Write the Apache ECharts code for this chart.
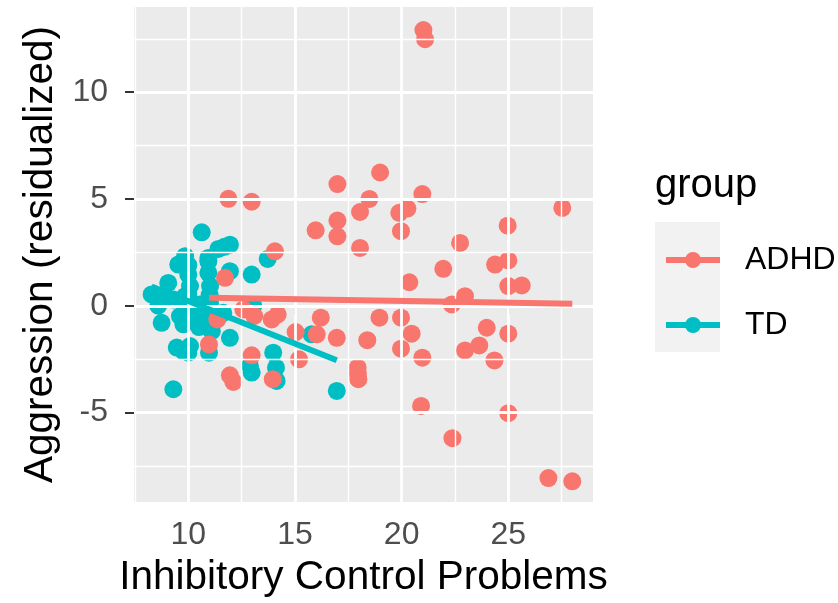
<!DOCTYPE html>
<html>
<head>
<meta charset="utf-8">
<script src="https://cdn.jsdelivr.net/npm/echarts@6/dist/echarts.min.js"></script>
<style>
  html, body { margin: 0; padding: 0; background: #fff; }
  #chart { width: 838px; height: 603px; }
</style>
</head>
<body>
<div id="chart"></div>
<script>
// values
var adhdX = [21.02, 21.10, 18.99, 16.99, 11.88, 12.97, 20.97, 18.49, 18.05, 19.89,
  20.27, 27.53, 16.99, 16.99, 15.97, 19.97, 24.97, 22.74, 18.05, 14.06,
  24.38, 25.00, 21.95, 20.36, 25.00, 25.63, 22.97, 22.35, 11.72, 18.96,
  19.97, 16.21, 14.19, 13.91, 12.58, 13.09, 11.36, 15.03, 16.02, 16.96,
  18.39, 20.47, 19.97, 20.97, 23.99, 25.00, 23.64, 22.97, 24.35, 10.97,
  15.19, 12.97, 11.95, 12.11, 17.94, 17.95, 17.97, 13.96, 20.91, 25.00,
  22.38, 26.88, 28.00];
var adhdY = [12.91, 12.48, 6.24, 5.70, 5.01, 4.87, 5.23, 5.00, 4.39, 4.35,
  4.55, 4.58, 3.99, 3.25, 3.53, 3.49, 3.75, 2.94, 2.71, 2.55,
  1.93, 2.12, 1.73, 1.10, 0.92, 0.95, 0.45, 0.06, 1.31, -0.56,
  -0.56, -0.56, -0.41, -0.64, -0.17, -0.48, -0.64, -1.23, -1.34, -1.50,
  -1.61, -1.31, -2.01, -2.43, -1.03, -1.31, -1.86, -2.09, -2.56, -1.81,
  -2.51, -2.32, -3.26, -3.57, -2.90, -3.20, -3.44, -3.44, -4.69, -5.03,
  -6.20, -8.07, -8.22];

var tdX = [10.63, 11.69, 11.95, 11.41, 9.85, 10.94, 9.53, 13.72, 12.97, 11.95,
  9.06, 10.00, 10.08, 10.94, 11.02, 8.28, 8.83, 8.59, 9.30, 9.85,
  9.92, 10.55, 11.02, 13.05, 8.75, 9.61, 9.77, 10.39, 11.02, 11.10,
  11.64, 11.95, 9.46, 10.08, 10.00, 9.77, 10.97, 13.98, 12.89, 12.97,
  14.11, 14.14, 9.30, 15.78, 16.96, 10.94, 10.00, 10.50, 10.00, 11.00,
  11.00, 10.00];
var tdY = [3.44, 2.76, 2.86, 2.66, 2.32, 2.08, 1.93, 2.19, 1.46, 1.62,
  1.07, 1.46, 0.92, 1.54, 0.92, 0.53, 0.37, 0.00, 0.29, 0.45,
  0.00, 0.06, 0.14, 0.00, -0.80, -0.49, -0.87, -0.64, -0.80, -1.19,
  -0.33, -1.50, -1.96, -1.89, -2.20, -2.12, -2.20, -2.20, -2.82, -3.13,
  -2.90, -3.52, -3.91, -1.34, -3.99, 2.24, 1.90, -1.00, 0.50, 0.50,
  -0.30, -0.30];

// fitted lines (lm per group), endpoints
var adhdFitX = [10.97, 28.00];
var adhdFitY = [0.37, 0.09];
var tdFitX = [8.28, 16.96];
var tdFitY = [0.90, -2.55];

// ticks / grid
var xTicks = [10, 15, 20, 25];
var xMinor = [7.5, 12.5, 17.5, 22.5, 27.5];
var yTicks = [-5, 0, 5, 10];
var yMinor = [-7.5, -2.5, 2.5, 7.5, 12.5];
var xRange = [7.455, 28.97];
var yRange = [-9.19, 13.99];

var groups = ['ADHD', 'TD'];
var colors = { ADHD: '#F8766D', TD: '#00BFC4' };

function pairs(xs, ys) {
  return xs.map(function (x, i) { return [x, ys[i]]; });
}

var gridLines = [];
xMinor.forEach(function (v) { gridLines.push({ xAxis: v, lineStyle: { width: 1.4 } }); });
yMinor.forEach(function (v) { gridLines.push({ yAxis: v, lineStyle: { width: 1.4 } }); });
xTicks.forEach(function (v) { gridLines.push({ xAxis: v, lineStyle: { width: 2.8 } }); });
yTicks.forEach(function (v) { gridLines.push({ yAxis: v, lineStyle: { width: 2.8 } }); });

var keyIcon = 'path://M0,5 L21,5 L21,11 L0,11 Z M33,5 L54,5 L54,11 L33,11 Z M35,8 A8,8 0 1 1 19,8 A8,8 0 1 1 35,8 Z';

var chart = echarts.init(document.getElementById('chart'));
chart.setOption({
  backgroundColor: '#ffffff',
  animation: false,
  textStyle: { fontFamily: 'Liberation Sans' },
  grid: {
    left: 134, top: 7, width: 459, height: 496,
    show: true, backgroundColor: '#EBEBEB', borderWidth: 0
  },
  xAxis: {
    type: 'value',
    min: xRange[0], max: xRange[1],
    name: 'Inhibitory Control Problems',
    nameLocation: 'middle',
    nameGap: 55,
    nameTextStyle: { fontSize: 40.5, color: '#000' },
    axisLine: { show: false },
    axisTick: { show: true, customValues: xTicks, length: 9, lineStyle: { color: '#333', width: 2 } },
    axisLabel: { customValues: xTicks, fontSize: 32, color: '#4D4D4D', margin: 17 },
    splitLine: { show: false }
  },
  yAxis: {
    type: 'value',
    min: yRange[0], max: yRange[1],
    name: 'Aggression (residualized)',
    nameLocation: 'middle',
    nameGap: 72,
    nameTextStyle: { fontSize: 40.5, color: '#000' },
    axisLine: { show: false },
    axisTick: { show: true, customValues: yTicks, length: 9, lineStyle: { color: '#333', width: 2 } },
    axisLabel: { customValues: yTicks, fontSize: 32, color: '#4D4D4D', margin: 26 },
    splitLine: { show: false }
  },
  legend: {
    orient: 'vertical',
    left: 661,
    top: 239,
    itemWidth: 54,
    itemHeight: 16,
    itemGap: 33,
    selectedMode: false,
    textStyle: { fontSize: 32, color: '#000', lineHeight: 32, padding: [0, 0, 0, 20] },
    data: groups.map(function (g) { return { name: g, icon: keyIcon }; })
  },
  graphic: [
    { type: 'rect', left: 655, top: 222, z: -1, shape: { width: 65, height: 130 }, style: { fill: '#F2F2F2' } },
    { type: 'text', x: 655, y: 186, style: { text: 'group', fontSize: 40, fill: '#000', fontFamily: 'Liberation Sans', verticalAlign: 'middle' } }
  ],
  series: [
    {
      name: 'grid', type: 'line', data: [], z: 1, silent: true,
      markLine: {
        silent: true, symbol: ['none', 'none'], label: { show: false },
        lineStyle: { color: '#FFFFFF', type: 'solid' },
        data: gridLines
      }
    },
    {
      name: 'TD', type: 'scatter', z: 3, symbolSize: 18,
      itemStyle: { color: colors.TD, opacity: 1 },
      data: pairs(tdX, tdY)
    },
    {
      name: 'ADHD', type: 'scatter', z: 4, symbolSize: 18,
      itemStyle: { color: colors.ADHD, opacity: 1 },
      data: pairs(adhdX, adhdY)
    },
    {
      name: 'ADHD fit', type: 'line', z: 5, showSymbol: false, silent: true,
      lineStyle: { color: colors.ADHD, width: 6 },
      data: pairs(adhdFitX, adhdFitY)
    },
    {
      name: 'TD fit', type: 'line', z: 6, showSymbol: false, silent: true,
      lineStyle: { color: colors.TD, width: 6 },
      data: pairs(tdFitX, tdFitY)
    }
  ]
});
</script>
</body>
</html>
